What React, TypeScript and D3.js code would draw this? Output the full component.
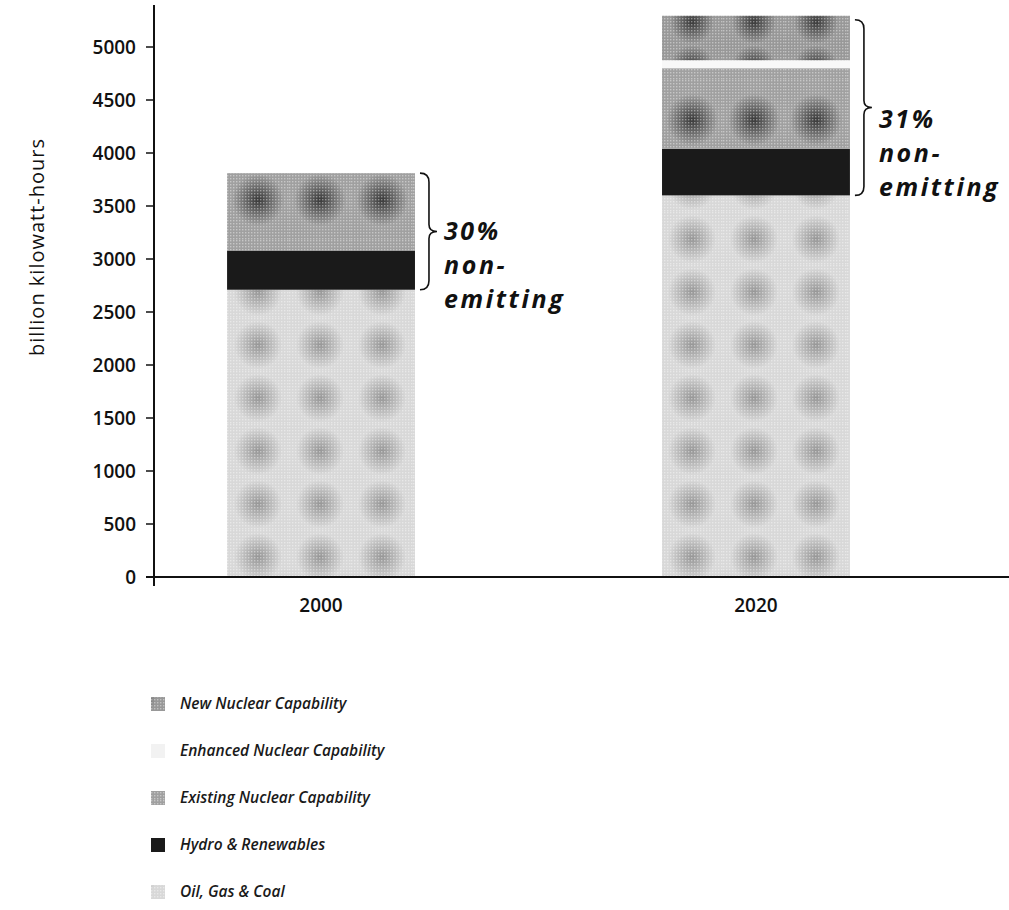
import React from "react";
import * as d3 from "d3";

const years = ["2000", "2020"];
const oilGasCoal = [2710, 3600];
const hydroRenewables = [370, 440];
const existingNuclear = [730, 760];
const enhancedNuclear = [0, 75];
const newNuclear = [0, 420];
const shareLabels = ["30%", "31%"];
const yTicks = [0, 500, 1000, 1500, 2000, 2500, 3000, 3500, 4000, 4500, 5000];
const legendLabels = [
  "New Nuclear Capability",
  "Enhanced Nuclear Capability",
  "Existing Nuclear Capability",
  "Hydro & Renewables",
  "Oil, Gas & Coal",
];

const W = 1009;
const H = 910;

export default function App() {
  const y = d3.scaleLinear().domain([0, 5000]).range([577, 47]);
  const x = d3
    .scaleBand<string>()
    .domain(years)
    .range([154, 923])
    .paddingInner(0.568)
    .paddingOuter(0.168);

  const seriesKeys = ["fossil", "hydro", "existing", "enhanced", "newnuc"];
  const table = years.map((yr, i) => ({
    year: yr,
    fossil: oilGasCoal[i],
    hydro: hydroRenewables[i],
    existing: existingNuclear[i],
    enhanced: enhancedNuclear[i],
    newnuc: newNuclear[i],
  }));
  const stack = d3.stack<any>().keys(seriesKeys)(table);
  const fills: Record<string, string> = {
    fossil: "url(#pFossil)",
    hydro: "url(#pHydro)",
    existing: "url(#pExisting)",
    enhanced: "#f8f8f8",
    newnuc: "url(#pNew)",
  };
  const legendFills = ["url(#pNew)", "#f2f2f2", "url(#pExisting)", "url(#pHydro)", "url(#pFossil)"];

  const brace = (x0: number, yTop: number, yBot: number) => {
    const ym = (yTop + yBot) / 2;
    const c = x0 + 9;
    return `M${x0},${yTop} Q${c},${yTop} ${c},${yTop + 9} L${c},${ym - 7} Q${c},${ym} ${c + 8},${ym} Q${c},${ym} ${c},${ym + 7} L${c},${yBot - 9} Q${c},${yBot} ${x0},${yBot}`;
  };

  const numFont = "'Open Sans', 'DejaVu Sans', sans-serif";
  const textOffsets = [9, 20];
  const braceTopPad = [0, 4];

  return (
    <svg
      width={W}
      height={H}
      style={{ display: "block", background: "#fff", position: "absolute", left: 0, top: 0 }}
    >
      <defs>
        <radialGradient id="gBlobLight">
          <stop offset="0%" stopColor="#8a8a8a" stopOpacity={0.85} />
          <stop offset="100%" stopColor="#8a8a8a" stopOpacity={0} />
        </radialGradient>
        <radialGradient id="gBlobDark">
          <stop offset="0%" stopColor="#333" stopOpacity={0.95} />
          <stop offset="100%" stopColor="#333" stopOpacity={0} />
        </radialGradient>
        <pattern id="pDots" width="3" height="3" patternUnits="userSpaceOnUse">
          <rect x="0" y="0" width="1.4" height="1.4" fill="#fff" opacity="0.4" />
        </pattern>
        <pattern id="pFossil" width="62" height="53" patternUnits="userSpaceOnUse" x="227" y="0">
          <rect width="62" height="53" fill="#d8d8d8" />
          <circle cx="31" cy="27" r="24" fill="url(#gBlobLight)" />
          <rect width="62" height="53" fill="url(#pDots)" />
        </pattern>
        <pattern id="pExisting" width="62" height="80" patternUnits="userSpaceOnUse" x="227" y="0">
          <rect width="62" height="80" fill="#a0a0a0" />
          <circle cx="31" cy="40" r="26" fill="url(#gBlobDark)" />
          <rect width="62" height="80" fill="url(#pDots)" />
        </pattern>
        <pattern id="pHydro" width="62" height="40" patternUnits="userSpaceOnUse" x="227" y="0">
          <rect width="62" height="40" fill="#1a1a1a" />
        </pattern>
        <pattern id="pNew" width="62" height="45" patternUnits="userSpaceOnUse" x="227" y="0">
          <rect width="62" height="45" fill="#989898" />
          <circle cx="31" cy="22" r="22" fill="url(#gBlobDark)" />
          <rect width="62" height="45" fill="url(#pDots)" />
        </pattern>
      </defs>

      {/* bars */}
      {stack.map((s) => (
        <g key={s.key}>
          {s.map((d, i) =>
            d[1] - d[0] > 0 ? (
              <rect
                key={i}
                x={x(years[i])}
                y={y(d[1])}
                width={x.bandwidth()}
                height={y(d[0]) - y(d[1])}
                fill={fills[s.key as string]}
              />
            ) : null
          )}
        </g>
      ))}

      {/* axes */}
      <line x1={154} x2={154} y1={5} y2={586} stroke="#111" strokeWidth={2} />
      <line x1={146} x2={1009} y1={577} y2={577} stroke="#111" strokeWidth={2} />
      {yTicks.map((t) => (
        <g key={t}>
          <line x1={146} x2={154} y1={y(t)} y2={y(t)} stroke="#111" strokeWidth={1.5} />
          <text
            x={136}
            y={y(t)}
            dy="0.36em"
            textAnchor="end"
            fontFamily={numFont}
            fontWeight={600}
            fontSize={19}
            fill="#111"
          >
            {t}
          </text>
        </g>
      ))}
      {years.map((yr) => (
        <text
          key={yr}
          x={(x(yr) as number) + x.bandwidth() / 2}
          y={612}
          textAnchor="middle"
          fontFamily={numFont}
          fontWeight={600}
          fontSize={19}
          fill="#111"
        >
          {yr}
        </text>
      ))}
      <text
        transform={`translate(44,247) rotate(-90)`}
        textAnchor="middle"
        fontFamily={numFont}
        fontSize={20}
        letterSpacing={1}
        fill="#111"
      >
        billion kilowatt-hours
      </text>

      {/* braces and annotations */}
      {years.map((yr, i) => {
        const top = oilGasCoal[i] + hydroRenewables[i] + existingNuclear[i] + enhancedNuclear[i] + newNuclear[i];
        const x0 = (x(yr) as number) + x.bandwidth() + 5;
        const yTop = y(top) + braceTopPad[i];
        const yBot = y(oilGasCoal[i]);
        const ym = (yTop + yBot) / 2;
        const tx = x0 + 24;
        const b = ym + textOffsets[i];
        return (
          <g key={yr}>
            <path d={brace(x0, yTop, yBot)} fill="none" stroke="#111" strokeWidth={1.6} />
            <g
              fontFamily={numFont}
              fontWeight={700}
              fontStyle="italic"
              fontSize={25}
              letterSpacing={2.6}
              fill="#111"
            >
              <text x={tx} y={b}>{shareLabels[i]}</text>
              <text x={tx} y={b + 34}>non-</text>
              <text x={tx} y={b + 68}>emitting</text>
            </g>
          </g>
        );
      })}

      {/* legend */}
      {legendLabels.map((lab, i) => {
        const ly = 704 + i * 47;
        return (
          <g key={lab}>
            <rect x={151} y={ly - 7} width={14} height={14} fill={legendFills[i]} />
            <text
              x={180}
              y={ly}
              dy="0.35em"
              fontFamily={numFont}
              fontStyle="italic"
              fontWeight={600}
              fontSize={15.5}
              fill="#1a1a1a"
            >
              {lab}
            </text>
          </g>
        );
      })}
    </svg>
  );
}
